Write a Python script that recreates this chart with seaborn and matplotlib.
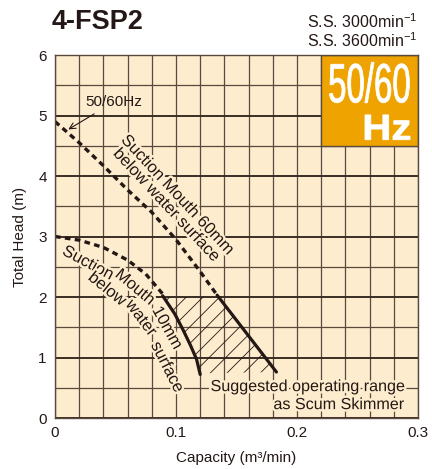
import matplotlib
matplotlib.use("Agg")
import matplotlib.pyplot as plt
import matplotlib.patheffects as pe
from matplotlib.patches import Rectangle, Polygon, PathPatch
from matplotlib.textpath import TextPath
from matplotlib.font_manager import FontProperties
from matplotlib.transforms import Affine2D
import numpy as np
import pandas as pd
import seaborn as sns

sns.set_style("white")
plt.rcParams['font.family'] = ['Liberation Sans', 'DejaVu Sans']
plt.rcParams['mathtext.fontset'] = 'custom'
plt.rcParams['mathtext.rm'] = 'Liberation Sans'
plt.rcParams['hatch.linewidth'] = 0.6

# curve readings (capacity m3/min, head m)
q_60mm_dot = [0.0, 0.02, 0.04, 0.06, 0.08, 0.10, 0.12, 0.134]
h_60mm_dot = [4.90, 4.55, 4.17, 3.77, 3.40, 2.95, 2.42, 2.03]
q_60mm_sol = [0.134, 0.183]
h_60mm_sol = [2.03, 0.76]

q_10mm_dot = [0.0, 0.02, 0.04, 0.06, 0.075, 0.089]
h_10mm_dot = [3.00, 2.94, 2.82, 2.61, 2.38, 2.05]
q_10mm_sol = [0.089, 0.099, 0.106, 0.112, 0.117, 0.120]
h_10mm_sol = [2.02, 1.72, 1.45, 1.20, 0.97, 0.72]

# hatched operating range outline
q_range = [0.091, 0.134, 0.183, 0.120, 0.117, 0.112, 0.106, 0.099]
h_range = [2.00, 2.00, 0.76, 0.74, 0.97, 1.20, 1.45, 1.72]

xticks = [0, 0.1, 0.2, 0.3]
xlabels = ["0", "0.1", "0.2", "0.3"]
yticks = [0, 1, 2, 3, 4, 5, 6]

# curved label words: text, q, h, rotation
words_10mm = [
    ("Suction", 0.0273, 2.56, -28),
    ("Mouth", 0.0661, 2.16, -40),
    ("10mm", 0.0926, 1.49, -61),
    ("below", 0.0430, 2.13, -39),
    ("water", 0.0711, 1.65, -53),
    ("surface", 0.0926, 0.84, -63),
]

bg = '#fdeccd'
gridc = '#5a4a3d'
ink = '#231815'
orange = '#efa300'

fig = plt.figure(figsize=(4.32, 4.69), dpi=100)
ax = fig.add_axes([55/432, 51/469, 363/432, 363/469])
ax.set_facecolor(bg)

ax.set_xlim(0, 0.3)
ax.set_ylim(0, 6)
ax.set_xticks(xticks)
ax.set_xticklabels(xlabels)
ax.set_yticks(yticks)
ax.set_xticks(np.arange(0, 0.3001, 0.02), minor=True)
ax.set_yticks(np.arange(0, 6.01, 0.5), minor=True)
ax.set_axisbelow(True)
ax.grid(which='minor', color=gridc, lw=0.9)
ax.grid(which='major', axis='y', color='#3a2d24', lw=1.4)
ax.grid(which='major', axis='x', color=gridc, lw=0.9)
ax.tick_params(which='both', length=0, labelsize=11, colors=ink, pad=6)
for s in ax.spines.values():
    s.set_color(gridc)
    s.set_linewidth(1.0)

dash = (0, (1.7, 1.3))
df = pd.DataFrame({'q': q_60mm_dot, 'h': h_60mm_dot})
sns.lineplot(data=df, x='q', y='h', ax=ax, sort=False, color=ink, lw=2.4, linestyle=dash)
df = pd.DataFrame({'q': q_10mm_dot, 'h': h_10mm_dot})
sns.lineplot(data=df, x='q', y='h', ax=ax, sort=False, color=ink, lw=2.4, linestyle=dash)
df = pd.DataFrame({'q': q_60mm_sol, 'h': h_60mm_sol})
sns.lineplot(data=df, x='q', y='h', ax=ax, sort=False, color=ink, lw=2.3)
df = pd.DataFrame({'q': q_10mm_sol, 'h': h_10mm_sol})
sns.lineplot(data=df, x='q', y='h', ax=ax, sort=False, color=ink, lw=2.3)

ax.add_patch(Polygon(list(zip(q_range, h_range)), closed=True, facecolor='none',
                     edgecolor=ink, lw=0, hatch='//', zorder=1.5))

halo = [pe.withStroke(linewidth=3.5, foreground=bg)]
ax.text(0.0967, 3.60, "Suction Mouth 60mm\nbelow water surface", rotation=-47,
        rotation_mode='anchor', ha='center', va='center', fontsize=12,
        color=ink, path_effects=halo, zorder=3, linespacing=1.0)
for w, q, h, r in words_10mm:
    ax.text(q, h, w, rotation=r, rotation_mode='anchor', ha='center', va='center',
            fontsize=12, color=ink, path_effects=halo, zorder=3)
ax.text(0.289, 0.37, "Suggested operating range\nas Scum Skimmer", ha='right',
        va='center', multialignment='right', fontsize=11.6, color=ink,
        path_effects=halo, zorder=3, linespacing=1.25)
ax.annotate("50/60Hz", xy=(0.011, 4.77), xytext=(0.025, 5.22), fontsize=11,
            color=ink, va='center', ha='left', zorder=3,
            arrowprops=dict(arrowstyle='->', color=ink, lw=0.8,
                            shrinkA=2, shrinkB=0))

# 50/60 Hz badge
ax.add_patch(Rectangle((0.22, 4.5), 0.08, 1.5, facecolor=orange,
                       edgecolor=gridc, lw=1.0, zorder=2.5))


def fit_text(s, x0, x1, y0, y1, weight='normal'):
    tp = TextPath((0, 0), s, size=10, prop=FontProperties(family='Liberation Sans', weight=weight))
    b = tp.get_extents()
    tr = (Affine2D().translate(-b.x0, -b.y0)
          .scale((x1 - x0) / b.width, (y1 - y0) / b.height)
          .translate(x0, y0) + ax.transData)
    ax.add_patch(PathPatch(tp, transform=tr, facecolor='white', edgecolor='white',
                           lw=0.6, zorder=3))


fit_text("50/60", 0.2268, 0.2929, 5.21, 5.88)
fit_text("Hz", 0.2562, 0.2934, 4.60, 5.01, weight='bold')

ax.set_xlabel("Capacity (m³/min)", fontsize=11, color=ink, labelpad=8)
ax.set_ylabel("Total Head (m)", fontsize=11, color=ink, labelpad=8)

fig.text(52/432, 1 - 22/469, "4-FSP2", fontsize=19.5, fontweight='bold',
         color=ink, ha='left', va='center')
fig.text(418/432, 1 - 22/469, r"S.S. 3000min$^{-1}$", fontsize=11.5,
         color=ink, ha='right', va='center')
fig.text(418/432, 1 - 41/469, r"S.S. 3600min$^{-1}$", fontsize=11.5,
         color=ink, ha='right', va='center')

fig.savefig("out.png", dpi=100, facecolor='white')
